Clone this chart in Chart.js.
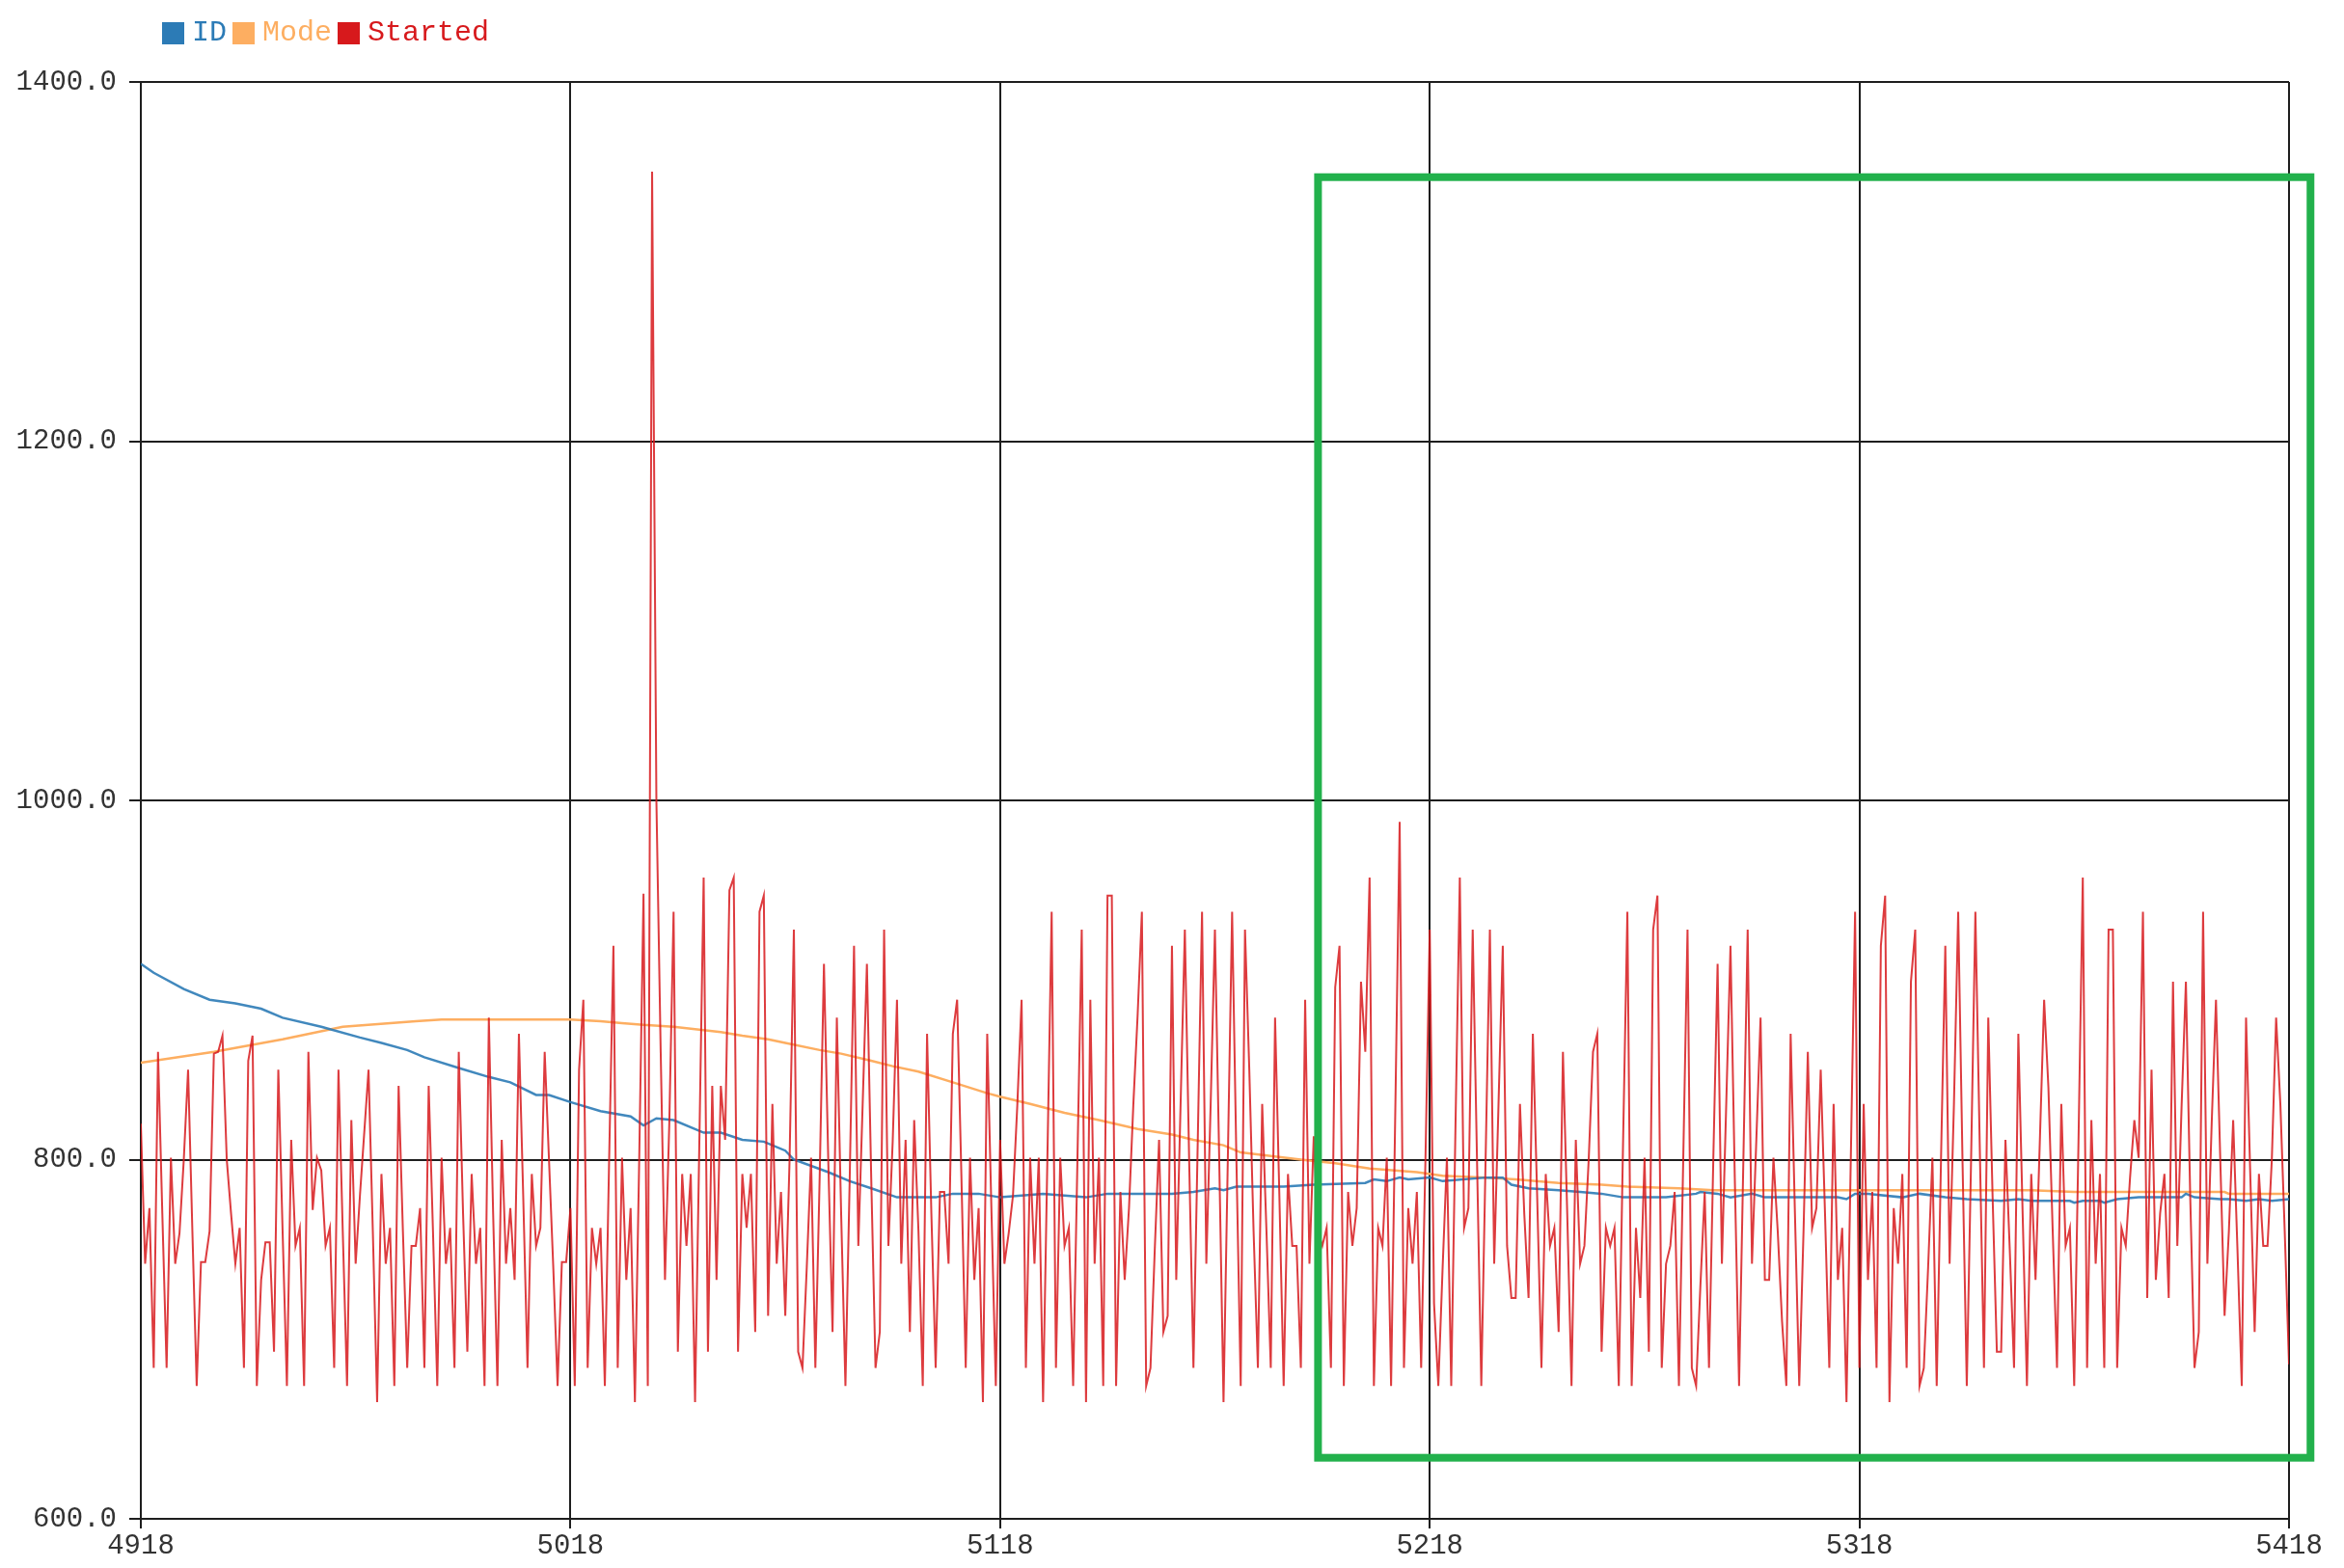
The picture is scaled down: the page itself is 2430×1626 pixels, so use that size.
<!DOCTYPE html>
<html>
<head>
<meta charset="utf-8">
<title>Serial plotter</title>
<script src="https://cdn.jsdelivr.net/npm/chart.js@4.4.0/dist/chart.umd.min.js"></script>
<style>
  body { margin: 0; background: #fff; }
  #wrap { position: relative; width: 2430px; height: 1626px; }
  #legend {
    position: absolute; left: 168px; top: 17px;
    display: flex; align-items: center;
    font: 30px 'Liberation Mono', 'DejaVu Sans Mono', monospace; line-height: 34px;
  }
  #legend .box { display: inline-block; width: 23px; height: 23px; margin-right: 8px; }
  #legend .lbl { margin-right: 6px; }
</style>
</head>
<body>
<div id="wrap">
  <canvas id="plot" width="2430" height="1626"></canvas>
  <div id="legend"></div>
</div>
<script>
// x axis: sample number
const startX = 4918;
const xTicks = [4918, 5018, 5118, 5218, 5318, 5418];

// "Started" - one value per sample, 4918..5418
const started = [
  820,742,773,684,860,770,684,801,742,759,800,850,760,674,743,743,760,859,860,869,
  800,770,742,762,684,855,869,674,733,754,754,693,850,760,674,811,752,762,674,860,
  772,801,794,752,762,684,850,760,674,822,742,780,815,850,760,665,792,742,762,674,
  841,760,684,752,752,773,684,841,760,674,801,742,762,684,860,770,693,792,742,762,
  674,879,770,674,811,742,773,733,870,780,684,792,752,762,860,800,740,674,743,743,
  773,674,850,889,684,762,742,762,674,800,919,684,801,733,773,665,800,948,674,1350,
  1000,860,733,820,938,693,792,752,792,665,810,957,693,841,733,841,811,950,957,693,
  792,762,792,704,938,947,713,831,742,782,713,800,928,693,684,740,801,684,790,909,
  800,704,879,770,674,790,919,752,830,909,790,684,704,928,752,810,889,742,811,704,
  822,760,674,870,770,684,782,782,742,870,889,790,684,801,733,773,665,870,770,674,
  811,742,759,780,830,889,684,801,742,801,665,800,938,684,801,752,762,674,800,928,
  665,889,742,801,674,947,947,674,782,733,773,830,880,938,674,684,750,811,704,713,
  919,733,830,928,800,684,810,938,742,830,928,800,665,800,938,800,674,928,850,760,
  684,831,760,684,879,780,674,792,752,752,684,889,742,813,760,752,762,684,896,919,
  674,782,752,773,899,860,957,674,762,752,801,674,830,988,684,773,742,782,684,800,
  928,720,674,740,801,674,820,957,762,773,928,800,674,800,928,742,830,919,752,723,
  723,831,770,723,870,780,684,792,752,762,704,860,770,674,811,742,752,800,860,870,
  693,762,752,762,674,810,938,674,762,723,801,693,928,947,684,742,752,782,674,800,
  928,684,674,730,782,684,800,909,742,830,919,790,674,800,928,742,810,879,733,733,
  801,760,710,674,870,770,674,760,860,762,773,850,770,684,831,733,762,665,800,938,
  684,831,733,782,684,919,947,665,773,742,792,684,899,928,674,684,740,801,674,800,
  919,742,830,938,800,674,800,938,810,684,879,780,693,693,811,750,684,870,770,674,
  792,733,810,889,840,760,684,831,752,762,674,810,957,684,822,742,792,684,928,928,
  684,762,752,790,822,801,938,723,850,733,770,792,723,899,752,830,899,780,684,704,
  938,742,820,889,800,713,760,822,750,674,879,790,704,792,752,752,800,879,830,760,
  686
];

// "ID" - read at the points where the slope changes
const idX = [4918,4921,4928,4934,4940,4946,4951,4960,4969,4974,4980,4984,4992,4999,5004,5010,5013,5018,5025,5032,
  5035,5038,5042,5049,5053,5058,5063,5068,5070,5078,5083,5088,5094,5103,5107,5113,5118,5128,5138,5143,
  5158,5163,5168,5170,5173,5184,5191,5203,5205,5208,5211,5213,5218,5221,5231,5235,5237,5241,5248,5253,
  5258,5263,5273,5280,5281,5285,5288,5293,5296,5303,5313,5315,5317,5320,5328,5332,5338,5343,5351,5355,
  5358,5367,5368,5370,5374,5375,5378,5383,5393,5394,5396,5402,5404,5408,5411,5414,5418];
const idY = [909,904,895,889,887,884,879,874,868,865,861,857,851,846,843,836,836,832,827,824,
  819,823,822,815,815,811,810,805,800,793,788,784,779,779,781,781,779,781,779,781,
  781,782,784,783,785,785,786,787,789,788,790,789,790,788,790,790,786,784,783,782,
  781,779,779,781,782,781,779,781,779,779,779,778,781,781,779,781,779,778,777,778,
  777,777,776,777,777,776,778,779,779,781,779,778,778,777,778,777,778];

// "Mode"
const modeX = [4918,4935,4951,4965,4982,4988,5018,5025,5030,5035,5042,5053,5058,5064,5068,5076,5081,5088,5093,5099,
  5107,5115,5118,5125,5133,5141,5150,5158,5163,5170,5174,5181,5188,5196,5204,5215,5221,5231,5238,5248,
  5258,5264,5276,5284,5358,5368,5403,5404,5418];
const modeY = [854,860,867,874,877,878,878,877,876,875,874,871,869,867,865,861,859,855,852,849,
  843,837,835,831,826,822,817,814,811,808,804,802,800,798,795,793,791,790,789,787,
  786,785,784,783,783,782,782,781,781];

// highlighted region (annotation box), in data units
const boxX = [5192, 5423];
const boxY = [634, 1347];

const series = [
  { label: 'ID', color: '#2c7bb6' },
  { label: 'Mode', color: '#fdae61' },
  { label: 'Started', color: '#d7191c' }
];

const legend = document.getElementById('legend');
series.forEach(s => {
  legend.insertAdjacentHTML('beforeend',
    `<span class="box" style="background:${s.color}"></span><span class="lbl" style="color:${s.color}">${s.label}</span>`);
});

const tickFont = { family: "'Liberation Mono', 'DejaVu Sans Mono', monospace", size: 29 };
const gridStyle = { color: '#1e1e1e', lineWidth: 2 };

const greenBox = {
  id: 'greenBox',
  afterDraw(chart) {
    const { ctx, scales: { x, y } } = chart;
    const l = x.getPixelForValue(boxX[0]);
    const r = x.getPixelForValue(boxX[1]);
    const t = y.getPixelForValue(boxY[1]);
    const b = y.getPixelForValue(boxY[0]);
    ctx.save();
    ctx.strokeStyle = '#22b14c';
    ctx.lineWidth = 8;
    ctx.strokeRect(l, t, r - l, b - t);
    ctx.restore();
  }
};

// eslint-disable-next-line no-unused-vars
const plot = new Chart(document.getElementById('plot'), {
  type: 'line',
  data: {
    datasets: [{
      label: 'Started',
      data: started.map((v, i) => ({ x: startX + i, y: v })),
      borderColor: 'rgba(215, 25, 28, 0.85)',
      borderWidth: 2,
      order: 0
    }, {
      label: 'ID',
      data: idX.map((x, i) => ({ x: x, y: idY[i] })),
      borderColor: 'rgba(44, 123, 182, 0.9)',
      borderWidth: 2.5,
      order: 1
    }, {
      label: 'Mode',
      data: modeX.map((x, i) => ({ x: x, y: modeY[i] })),
      borderColor: '#fdae61',
      borderWidth: 2.5,
      order: 2
    }]
  },
  options: {
    responsive: false,
    animation: false,
    devicePixelRatio: 1,
    layout: { padding: { top: 85, right: 57, left: 0, bottom: 0 } },
    elements: { point: { radius: 0 }, line: { tension: 0 } },
    plugins: { legend: { display: false }, tooltip: { enabled: false } },
    scales: {
      x: {
        type: 'linear',
        min: 4918,
        max: 5418,
        afterBuildTicks: ax => { ax.ticks = xTicks.map(v => ({ value: v })); },
        afterFit: ax => { ax.height = 51; },
        grid: { ...gridStyle, tickLength: 10 },
        border: { display: true, color: '#1e1e1e', width: 2 },
        ticks: { font: tickFont, color: '#333', padding: 1, maxRotation: 0, autoSkip: false, callback: v => String(v) }
      },
      y: {
        min: 600,
        max: 1400,
        afterFit: ax => { ax.width = 146; },
        grid: { ...gridStyle, tickLength: 12 },
        border: { display: true, color: '#1e1e1e', width: 2 },
        ticks: { stepSize: 200, font: tickFont, color: '#333', padding: 13, callback: v => v.toFixed(1) }
      }
    }
  },
  plugins: [greenBox]
});
</script>
</body>
</html>
